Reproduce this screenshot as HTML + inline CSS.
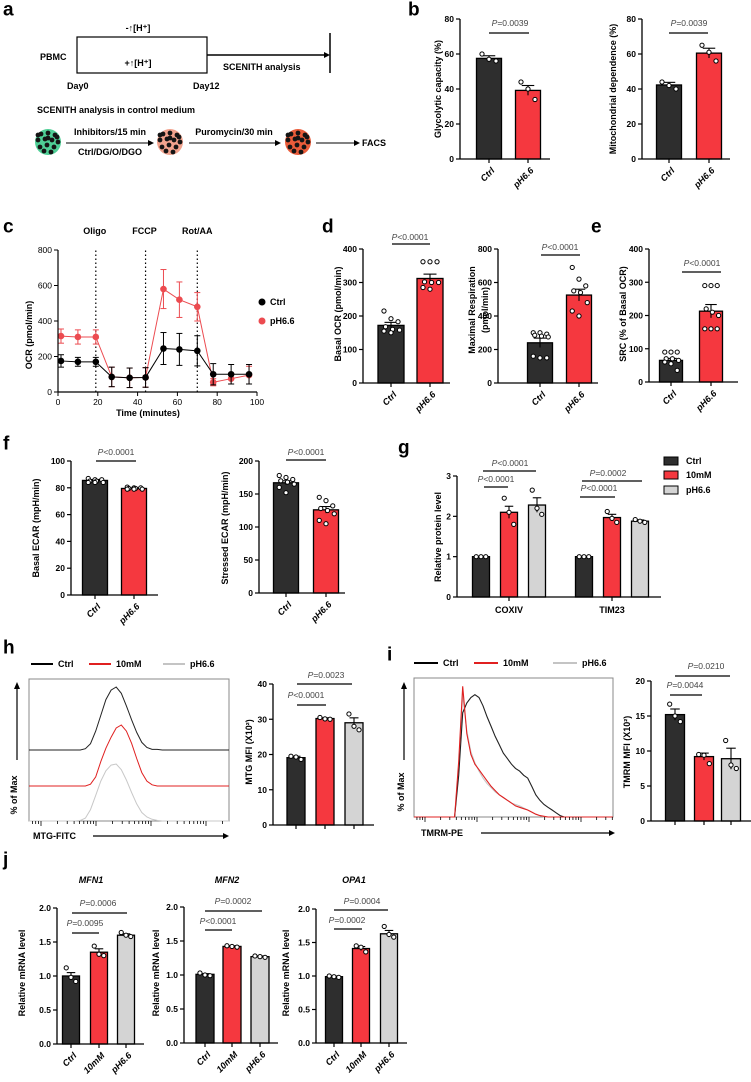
<!DOCTYPE html>
<html><head><meta charset="utf-8">
<style>
html,body{margin:0;padding:0;background:#fff;}
svg{display:block;font-family:"Liberation Sans",Arial,sans-serif;}
</style></head>
<body>
<svg id="fig" width="751" height="1082" viewBox="0 0 751 1082" xmlns="http://www.w3.org/2000/svg"></svg>
<script>
// ---------- data ----------
const cats2 = ['Ctrl','pH6.6'];
const cats3 = ['Ctrl','10mM','pH6.6'];
const ticks80 = [0,20,40,60,80];
const ticks400 = [0,100,200,300,400];
const ticks800 = [0,200,400,600,800];
const ticks100 = [0,20,40,60,80,100];
const ticks200 = [0,50,100,150,200];
const ticks3 = [0,1,2,3];
const ticks40 = [0,10,20,30,40];
const ticks20 = [0,5,10,15,20];
const ticks2 = [0,0.5,1,1.5,2];
const ticks2Labels = ['0.0','0.5','1.0','1.5','2.0'];
const cTickX = [0,20,40,60,80,100];

const bGlyVals = [57.5,39.2];
const bGlySem = [1.5,2.8];
const bGlyDots = [[60,57,56],[44,40,34]];
const bMitoVals = [42.3,60.5];
const bMitoSem = [1.5,2.8];
const bMitoDots = [[44,42,40],[65,61,56]];

const cTimes = [1.5,10,19,27,36,44,53,61,70,78,87,96];
const cCtrl = [175,170,170,85,80,82,245,240,232,100,100,100];
const cCtrlErr = [35,25,25,55,55,55,90,90,85,60,55,55];
const cPH = [315,310,310,85,80,82,580,520,480,55,75,95];
const cPHErr = [40,40,40,55,55,55,110,100,80,20,30,50];

const dBasalVals = [172,312];
const dBasalSem = [9,13];
const dBasalDots = [[215,192,183,168,160,158,155,150],[362,362,362,302,300,300,285,280]];
const dMaxVals = [240,525];
const dMaxSem = [28,35];
const dMaxDots = [[300,300,292,285,280,275,160,150,150],[690,620,580,550,540,480,430,400]];
const eSrcVals = [65,213];
const eSrcSem = [6,20];
const eSrcDots = [[90,90,90,70,70,65,60,55,35],[290,290,290,220,210,200,160,160,160]];

const fBasalVals = [85.5,79.5];
const fBasalSem = [0.7,0.4];
const fBasalDots = [[87,86,86,85,85,84,84,84],[80.5,80,80,79.5,79.5,79,79,79]];
const fStressVals = [167,126];
const fStressSem = [3,5];
const fStressDots = [[178,175,172,170,168,165,160,152],[145,140,132,128,125,120,110,105]];

const gGroups = ['COXIV','TIM23'];
const gVals = [1,2.1,2.28,1,1.97,1.88];
const gSem = [0,0.15,0.18,0,0.08,0.03];
const gDots = [[1,1,1],[2.45,2.1,1.8],[2.65,2.2,2.05],[1,1,1],[2.12,1.95,1.85],[1.92,1.88,1.85]];

const hVals = [19.1,30.2,29];
const hSem = [0.4,0.2,1.4];
const hDots = [[19.5,19.3,18.6],[30.5,30.1,30],[31.5,28,27]];
const iVals = [15.2,9.2,8.9];
const iSem = [0.8,0.5,1.5];
const iDots = [[16.7,15,14.2],[9.5,9.4,8.2],[11.5,8,7.5]];

const hHistCtrl = [0,0,0,0,0,0,0,0,0,0,0,0.02,0.1,0.3,0.55,0.8,0.95,1,0.9,0.7,0.48,0.28,0.12,0.04,0.01,0.01,0,0,0,0,0,0,0,0,0,0,0,0,0,0];
const hHistRed = [0,0,0,0,0,0,0,0,0,0,0,0,0.03,0.15,0.4,0.62,0.8,0.95,1,0.9,0.7,0.45,0.22,0.08,0.02,0,0,0,0,0,0,0,0,0,0,0,0,0,0,0];
const hHistGray = [0,0,0,0,0,0,0,0,0,0,0.01,0.05,0.2,0.45,0.7,0.88,0.98,1,0.9,0.72,0.5,0.3,0.15,0.07,0.03,0.01,0,0,0,0,0,0,0,0,0,0,0,0,0,0];
const iHistCtrl = [0,0,0,0,0,0,0,0,0,0,0,0.3,0.75,0.82,0.86,0.88,0.86,0.8,0.72,0.65,0.58,0.52,0.46,0.42,0.38,0.35,0.33,0.3,0.28,0.22,0.16,0.12,0.09,0.07,0.05,0.03,0.01,0,0,0,0,0,0,0,0,0,0,0,0,0];
const iHistRed = [0,0,0,0,0,0,0,0,0,0,0,0.4,0.94,0.6,0.45,0.38,0.34,0.3,0.26,0.22,0.19,0.16,0.14,0.12,0.1,0.08,0.07,0.06,0.05,0.035,0.02,0.01,0.005,0,0,0,0,0,0,0,0,0,0,0,0,0,0,0,0,0];
const iHistGray = [0,0,0,0,0,0,0,0,0,0,0,0.35,0.88,0.62,0.47,0.39,0.33,0.28,0.24,0.21,0.18,0.16,0.14,0.12,0.1,0.09,0.08,0.065,0.05,0.035,0.02,0.01,0,0,0,0,0,0,0,0,0,0,0,0,0,0,0,0,0,0];

const jMfn1Vals = [1.0,1.35,1.6];
const jMfn1Sem = [0.05,0.05,0.02];
const jMfn1Dots = [[1.12,0.98,0.92],[1.44,1.32,1.3],[1.64,1.6,1.58]];
const jMfn2Vals = [1.01,1.42,1.27];
const jMfn2Sem = [0.01,0.01,0.01];
const jMfn2Dots = [[1.03,1.0,0.99],[1.43,1.42,1.41],[1.28,1.27,1.26]];
const jOpa1Vals = [0.99,1.41,1.63];
const jOpa1Sem = [0.01,0.03,0.05];
const jOpa1Dots = [[1.0,0.99,0.98],[1.45,1.43,1.36],[1.74,1.62,1.58]];

// ---------- helpers ----------
const NS='http://www.w3.org/2000/svg';
const svg=document.getElementById('fig');
const DARK='#2e2e2e', RED='#f5383f', GRAY='#d4d4d4';
function add(tag, attrs, name, parent){
  const e=document.createElementNS(NS,tag);
  for(const k in attrs) e.setAttribute(k,attrs[k]);
  
  
  (parent||svg).appendChild(e);
  return e;
}
function text(x,y,s,name,o){
  o=o||{};
  const t=add('text',{x:x,y:y,'font-size':o.size||9,'font-weight':o.weight||'bold','text-anchor':o.anchor||'start','font-style':o.style||'normal',fill:o.fill||'#000','dominant-baseline':'central'},name,o.parent);
  if(o.rot!==undefined) t.setAttribute('transform','rotate('+o.rot+' '+x+' '+y+')');
  t.textContent=s;
  return t;
}
function line(x1,y1,x2,y2,name,o){
  o=o||{};
  const a={x1:x1,y1:y1,x2:x2,y2:y2,stroke:o.stroke||'#000','stroke-width':o.w||1};
  if(o.dash) a['stroke-dasharray']=o.dash;
  return add('line',a,name,o.parent);
}
function pval(x,y,label,name){
  const t=add('text',{x:x,y:y,'font-size':8.5,'text-anchor':'middle',fill:'#444','dominant-baseline':'central'},name);
  const p=document.createElementNS(NS,'tspan');
  p.setAttribute('font-style','italic');
  p.textContent='P';
  t.appendChild(p);
  t.appendChild(document.createTextNode(label.slice(1)));
}
function arrowR(x1,x2,y,name,w){
  line(x1,y,x2-5,y,name,{w:w||1.2});
  add('polygon',{points:(x2-6)+','+(y-3)+' '+x2+','+y+' '+(x2-6)+','+(y+3),fill:'#000'},name+'-head');
}

function barChart(c, cats, vals, sems, dots, ticks, tickLabels){
  const g=add('g',{},c.id);
  const y=v=>c.y0 - v/c.max*(c.y0-c.yTop);
  vals.forEach((v,i)=>{
    const cx=c.xs[i];
    add('rect',{x:cx-c.w/2,y:y(v),width:c.w,height:c.y0-y(v),fill:c.colors[i],stroke:'#000','stroke-width':1.3},c.id+'-bar-'+i,g);
    const top=y(v+sems[i]), bot=y(v-sems[i]);
    if(sems[i]>0){
      line(cx,top,cx,bot,c.id+'-error-'+i,{parent:g,w:1.1});
      line(cx-c.w*0.25,top,cx+c.w*0.25,top,c.id+'-error-cap-'+i,{parent:g,w:1.1});
    }
    const d=dots[i], n=d.length;
    d.forEach((dv,k)=>{
      let dx;
      if(n>3){ dx=((k%3)-1)*c.w*0.27 + ((Math.floor(k/3)%2)?c.w*0.06:0); }
      else { dx=(k-(n-1)/2)*c.w*0.28; }
      add('circle',{cx:cx+dx,cy:y(dv),r:2.1,fill:'#fff',stroke:'#000','stroke-width':1},c.id+'-dot',g);
    });
  });
  line(c.ax,c.y0,c.ax,c.yTop,c.id+'-y-axis',{parent:g,w:1.3});
  ticks.forEach((t,i)=>{
    line(c.ax-4,y(t),c.ax,y(t),c.id+'-y-tick',{parent:g,w:1.2});
    text(c.ax-6,y(t),tickLabels?tickLabels[i]:String(t),c.id+'-y-tick-label',{parent:g,anchor:'end',size:8.5});
  });
  line(c.ax,c.y0,c.axisEnd,c.y0,c.id+'-x-axis',{parent:g,w:1.3});
  const xt=c.xticks||c.xs;
  xt.forEach(x=>line(x,c.y0,x,c.y0+4,c.id+'-x-tick',{parent:g,w:1.2}));
  if(c.groupLabels){
    c.groupLabels.forEach((l,i)=>text(xt[i],c.y0+13,l,c.id+'-x-label',{parent:g,anchor:'middle',size:9}));
  } else if(c.rotLabels!==false){
    cats.forEach((l,i)=>text(c.xs[i]+4,c.y0+10,l,c.id+'-x-label',{parent:g,anchor:'end',style:'italic',size:9,rot:-45}));
  }
  (c.ylabel||[]).forEach((l,i)=>text(c.ylabelX[i],c.ylabelY,l,c.id+'-y-title',{parent:g,anchor:'middle',size:9,rot:-90}));
  (c.sigs||[]).forEach(s=>{
    line(s.x1,s.y,s.x2,s.y,c.id+'-sig-line',{w:1.3});
    pval(s.tx,s.ty,s.label,c.id+'-p-value');
  });
}

function hist(x0,x1,base,h,arr,color,name,w){
  const step=(x1-x0)/(arr.length-1);
  const pts=arr.map((v,i)=>(x0+i*step).toFixed(1)+','+(base-v*h).toFixed(1)).join(' ');
  add('polyline',{points:pts,fill:'none',stroke:color,'stroke-width':w||1},name);
}
function logTicks(x0,x1,start,dec,y,name){
  for(let k=-1;k<6;k++){
    for(let m=1;m<10;m++){
      const x=start+k*dec+Math.log10(m)*dec;
      if(x<x0||x>x1) continue;
      line(x,y,x,y+(m===1?5:3),name,{w:0.8});
    }
  }
}

// ---------- panel letters ----------
[['a',3,10],['b',408,10],['c',3,227],['d',322,227],['e',591,227],['f',3,444],['g',398,448],['h',3,648],['i',387,655],['j',3,860]].forEach(p=>{
  text(p[1],p[2],p[0],'panel-label-'+p[0],{size:19,weight:'bold'});
});

// ---------- panel a ----------
add('rect',{x:77,y:37,width:130,height:36,fill:'none',stroke:'#000','stroke-width':1.2},'culture-box');
arrowR(207,330,55,'timeline-arrow',1.5);
line(330,33,330,73,'timeline-end-bar',{w:1.5});
text(138,28,'-↑[H⁺]','minus-proton-label',{anchor:'middle'});
text(138,63,'+↑[H⁺]','plus-proton-label',{anchor:'middle'});
text(40,57,'PBMC','pbmc-label',{});
text(223,67,'SCENITH analysis','scenith-label',{});
text(67,86,'Day0','day0-label',{});
text(193,86,'Day12','day12-label',{});
text(37,110,'SCENITH analysis in control medium','scenith-medium-title',{});
const cellOffsets=[[-7,-8],[0,-9],[7,-7],[-10,-2],[-3,-3],[4,-2],[10,0],[-8,5],[-1,3],[6,5],[-4,9],[3,10],[9,-5],[-10,-7],[0,-4]];
function cluster(cx,cy,color,name){
  const g=add('g',{},name);
  add('circle',{cx:cx,cy:cy,r:13,fill:color},name+'-body',g);
  cellOffsets.forEach(o=>add('circle',{cx:cx+o[0],cy:cy+o[1],r:2.4,fill:'#151515'},name+'-cell',g));
}
cluster(48,142,'#4fcf96','untreated-cells');
cluster(170,142,'#f2a38e','inhibitor-cells');
cluster(298,142,'#ea5c3a','puromycin-cells');
arrowR(66,154,143,'inhibitor-arrow',1);
text(110,132,'Inhibitors/15 min','inhibitors-label',{anchor:'middle'});
text(110,152,'Ctrl/DG/O/DGO','conditions-label',{anchor:'middle'});
arrowR(189,281,143,'puromycin-arrow',1);
text(234,132,'Puromycin/30 min','puromycin-label',{anchor:'middle'});
arrowR(316,360,143,'facs-arrow',1);
text(362,143,'FACS','facs-label',{});

// ---------- panel b ----------
barChart({id:'glycolytic-chart',ax:460,y0:159,yTop:19,max:80,xs:[489,528],w:25,colors:[DARK,RED],axisEnd:550,
  ylabel:['Glycolytic capacity (%)'],ylabelX:[438],ylabelY:89,
  sigs:[{x1:489,x2:529,y:33,label:'P=0.0039',tx:510,ty:23}]},cats2,bGlyVals,bGlySem,bGlyDots,ticks80);
barChart({id:'mito-dependence-chart',ax:642,y0:159,yTop:19,max:80,xs:[669,709],w:25,colors:[DARK,RED],axisEnd:730,
  ylabel:['Mitochondrial dependence (%)'],ylabelX:[613],ylabelY:89,
  sigs:[{x1:669,x2:708,y:33,label:'P=0.0039',tx:689,ty:23}]},cats2,bMitoVals,bMitoSem,bMitoDots,ticks80);

// ---------- panel c ----------
(function(){
  const ax=58, x1=257, y0=392, yTop=250;
  const X=t=>ax+t/100*(x1-ax), Y=v=>y0-v/800*(y0-yTop);
  const g=add('g',{},'ocr-timecourse-chart');
  [19,44,70].forEach(t=>line(X(t),y0,X(t),yTop,'injection-line',{parent:g,dash:'1.5,2.5',w:1.2}));
  text(X(19)-1,231,'Oligo','oligo-label',{anchor:'middle'});
  text(X(44)-1,231,'FCCP','fccp-label',{anchor:'middle'});
  text(X(70),231,'Rot/AA','rotaa-label',{anchor:'middle'});
  function series(vals,errs,color,name){
    const pts=cTimes.map((t,i)=>X(t)+','+Y(vals[i])).join(' ');
    add('polyline',{points:pts,fill:'none',stroke:color,'stroke-width':1},name+'-line',g);
    cTimes.forEach((t,i)=>{
      const x=X(t);
      line(x,Y(vals[i]+errs[i]),x,Y(vals[i]-errs[i]),name+'-error',{parent:g,stroke:color,w:1});
      line(x-3,Y(vals[i]+errs[i]),x+3,Y(vals[i]+errs[i]),name+'-error-cap',{parent:g,stroke:color,w:1});
      line(x-3,Y(vals[i]-errs[i]),x+3,Y(vals[i]-errs[i]),name+'-error-cap',{parent:g,stroke:color,w:1});
      add('circle',{cx:x,cy:Y(vals[i]),r:3.3,fill:color},name+'-point',g);
    });
  }
  series(cPH,cPHErr,'#ec4b50','ph66-series');
  series(cCtrl,cCtrlErr,'#000','ctrl-series');
  line(ax,y0,ax,yTop,'y-axis',{parent:g,w:1.2});
  line(ax,y0,x1,y0,'x-axis',{parent:g,w:1.2});
  ticks800.forEach(t=>{line(ax-4,Y(t),ax,Y(t),'y-tick',{parent:g});text(ax-6,Y(t),String(t),'y-tick-label',{parent:g,anchor:'end',size:8.5,weight:'normal'});});
  cTickX.forEach(t=>{line(X(t),y0,X(t),y0+4,'x-tick',{parent:g});text(X(t),y0+10,String(t),'x-tick-label',{parent:g,anchor:'middle',size:8.5,weight:'normal'});});
  text(148,413,'Time (minutes)','x-axis-title',{anchor:'middle'});
  text(29,335,'OCR (pmol/min)','y-axis-title',{anchor:'middle',rot:-90});
  add('circle',{cx:262,cy:302,r:3.5,fill:'#000'},'legend-ctrl-marker');
  text(270,302,'Ctrl','legend-ctrl-label',{});
  add('circle',{cx:262,cy:321,r:3.5,fill:'#ec4b50'},'legend-ph-marker');
  text(270,321,'pH6.6','legend-ph-label',{});
})();

// ---------- panel d/e ----------
barChart({id:'basal-ocr-chart',ax:363,y0:383,yTop:249,max:400,xs:[391,430],w:26,colors:[DARK,RED],axisEnd:450,
  ylabel:['Basal OCR (pmol/min)'],ylabelX:[338],ylabelY:314,
  sigs:[{x1:392,x2:430,y:244,label:'P<0.0001',tx:410,ty:237}]},cats2,dBasalVals,dBasalSem,dBasalDots,ticks400);
barChart({id:'maximal-respiration-chart',ax:498,y0:383,yTop:249,max:800,xs:[540,579],w:25,colors:[DARK,RED],axisEnd:598,
  ylabel:['Maximal Respiration','(pmol/min)'],ylabelX:[472,485],ylabelY:310,
  sigs:[{x1:541,x2:580,y:255,label:'P<0.0001',tx:560,ty:247}]},cats2,dMaxVals,dMaxSem,dMaxDots,ticks800);
barChart({id:'src-chart',ax:649,y0:382,yTop:249,max:400,xs:[671,711],w:23,colors:[DARK,RED],axisEnd:738,
  ylabel:['SRC (% of Basal OCR)'],ylabelX:[623],ylabelY:314,
  sigs:[{x1:682,x2:721,y:272,label:'P<0.0001',tx:702,ty:263}]},cats2,eSrcVals,eSrcSem,eSrcDots,ticks400);

// ---------- panel f ----------
barChart({id:'basal-ecar-chart',ax:71,y0:595,yTop:461,max:100,xs:[95,134],w:25,colors:[DARK,RED],axisEnd:158,
  ylabel:['Basal ECAR (mpH/min)'],ylabelX:[36],ylabelY:528,
  sigs:[{x1:96,x2:136,y:461,label:'P<0.0001',tx:116,ty:452}]},cats2,fBasalVals,fBasalSem,fBasalDots,ticks100);
barChart({id:'stressed-ecar-chart',ax:259,y0:593,yTop:461,max:200,xs:[286,326],w:25,colors:[DARK,RED],axisEnd:345,
  ylabel:['Stressed ECAR (mpH/min)'],ylabelX:[225],ylabelY:528,
  sigs:[{x1:286,x2:326,y:460,label:'P<0.0001',tx:306,ty:452}]},cats2,fStressVals,fStressSem,fStressDots,ticks200);

// ---------- panel g ----------
barChart({id:'protein-level-chart',ax:457,y0:597,yTop:476,max:3,xs:[481,509,537,584,612,640],w:17,
  colors:[DARK,RED,GRAY,DARK,RED,GRAY],axisEnd:661,xticks:[509,612],groupLabels:gGroups,
  ylabel:['Relative protein level'],ylabelX:[438],ylabelY:537,
  sigs:[{x1:483,x2:536,y:471,label:'P<0.0001',tx:510,ty:463},{x1:484,x2:508,y:487,label:'P<0.0001',tx:496,ty:479},
        {x1:582,x2:642,y:481,label:'P=0.0002',tx:608,ty:473},{x1:580,x2:615,y:497,label:'P<0.0001',tx:599,ty:488}]},
  gGroups,gVals,gSem,gDots,ticks3);
[['Ctrl',DARK,461],['10mM',RED,475],['pH6.6',GRAY,490]].forEach(l=>{
  add('rect',{x:664,y:l[2]-4,width:14,height:8,fill:l[1],stroke:'#000','stroke-width':1},'legend-swatch-'+l[0]);
  text(686,l[2],l[0],'legend-label-'+l[0],{});
});

// ---------- panel h ----------
[['Ctrl','#000',31],['10mM','#e02020',89],['pH6.6','#c4c4c4',163]].forEach(l=>{
  line(l[2],664,l[2]+22,664,'h-legend-line-'+l[0],{stroke:l[1],w:2});
  text(l[2]+27,664,l[0],'h-legend-label-'+l[0],{});
});
add('rect',{x:29,y:679,width:200,height:142,fill:'none',stroke:'#888','stroke-width':1},'h-histogram-box');
hist(29,229,821,57,hHistGray,'#c8c8c8','h-hist-ph66',1);
hist(29,229,786,61,hHistRed,'#e02020','h-hist-10mm',1);
hist(29,229,750,63,hHistCtrl,'#222','h-hist-ctrl',1);
logTicks(29,229,41,55,821,'h-x-tick');
line(17,760,17,688,'h-y-arrow',{w:1.2});
add('polygon',{points:'14,689 17,682 20,689',fill:'#000'},'h-y-arrow-head');
text(14,795,'% of Max','h-y-title',{anchor:'middle',rot:-90});
text(33,836,'MTG-FITC','h-x-title',{});
arrowR(93,229,836,'h-x-arrow',1.3);
barChart({id:'mtg-mfi-chart',ax:273,y0:825,yTop:684,max:40,xs:[296,325,354],w:18,colors:[DARK,RED,GRAY],axisEnd:374,rotLabels:false,
  ylabel:['MTG MFI (X10²)'],ylabelX:[249],ylabelY:752,
  sigs:[{x1:297,x2:352,y:684,label:'P=0.0023',tx:326,ty:675},{x1:297,x2:326,y:705,label:'P<0.0001',tx:306,ty:695}]},
  cats3,hVals,hSem,hDots,ticks40);

// ---------- panel i ----------
[['Ctrl','#000',414],['10mM','#e02020',474],['pH6.6','#c4c4c4',553]].forEach(l=>{
  line(l[2],663,l[2]+24,663,'i-legend-line-'+l[0],{stroke:l[1],w:2});
  text(l[2]+29,663,l[0],'i-legend-label-'+l[0],{});
});
add('rect',{x:414,y:678,width:199,height:139,fill:'none',stroke:'#888','stroke-width':1},'i-histogram-box');
hist(414,613,817,139,iHistGray,'#c8c8c8','i-hist-ph66',1.1);
hist(414,613,817,139,iHistCtrl,'#222','i-hist-ctrl',1.1);
hist(414,613,817,139,iHistRed,'#e02020','i-hist-10mm',1.1);
logTicks(414,613,425,52,817,'i-x-tick');
line(404,760,404,688,'i-y-arrow',{w:1.2});
add('polygon',{points:'401,689 404,682 407,689',fill:'#000'},'i-y-arrow-head');
text(401,792,'% of Max','i-y-title',{anchor:'middle',rot:-90});
text(421,833,'TMRM-PE','i-x-title',{});
arrowR(481,615,833,'i-x-arrow',1.3);
barChart({id:'tmrm-mfi-chart',ax:651,y0:821,yTop:681,max:20,xs:[675,704,731],w:19,colors:[DARK,RED,GRAY],axisEnd:751,rotLabels:false,
  ylabel:['TMRM MFI (X10²)'],ylabelX:[627],ylabelY:752,
  sigs:[{x1:675,x2:730,y:676,label:'P=0.0210',tx:706,ty:666},{x1:670,x2:702,y:695,label:'P=0.0044',tx:685,ty:685}]},
  cats3,iVals,iSem,iDots,ticks20);

// ---------- panel j ----------
text(91,880,'MFN1','mfn1-title',{anchor:'middle',style:'italic'});
text(227,880,'MFN2','mfn2-title',{anchor:'middle',style:'italic'});
text(354,880,'OPA1','opa1-title',{anchor:'middle',style:'italic'});
barChart({id:'mfn1-chart',ax:57,y0:1044,yTop:908,max:2,xs:[71,99,126],w:17,colors:[DARK,RED,GRAY],axisEnd:144,
  ylabel:['Relative mRNA level'],ylabelX:[22],ylabelY:973,
  sigs:[{x1:72,x2:127,y:913,label:'P=0.0006',tx:98,ty:903},{x1:72,x2:99,y:933,label:'P=0.0095',tx:85,ty:923}]},
  cats3,jMfn1Vals,jMfn1Sem,jMfn1Dots,ticks2,ticks2Labels);
barChart({id:'mfn2-chart',ax:184,y0:1043,yTop:907,max:2,xs:[205,232,260],w:18,colors:[DARK,RED,GRAY],axisEnd:278,
  ylabel:['Relative mRNA level'],ylabelX:[156],ylabelY:973,
  sigs:[{x1:205,x2:262,y:911,label:'P=0.0002',tx:233,ty:901},{x1:205,x2:232,y:930,label:'P<0.0001',tx:218,ty:921}]},
  cats3,jMfn2Vals,jMfn2Sem,jMfn2Dots,ticks2,ticks2Labels);
barChart({id:'opa1-chart',ax:316,y0:1043,yTop:909,max:2,xs:[334,361,389],w:17,colors:[DARK,RED,GRAY],axisEnd:407,
  ylabel:['Relative mRNA level'],ylabelX:[286],ylabelY:973,
  sigs:[{x1:334,x2:388,y:910,label:'P=0.0004',tx:362,ty:901},{x1:334,x2:362,y:929,label:'P=0.0002',tx:347,ty:920}]},
  cats3,jOpa1Vals,jOpa1Sem,jOpa1Dots,ticks2,ticks2Labels);
</script>
</body></html>
